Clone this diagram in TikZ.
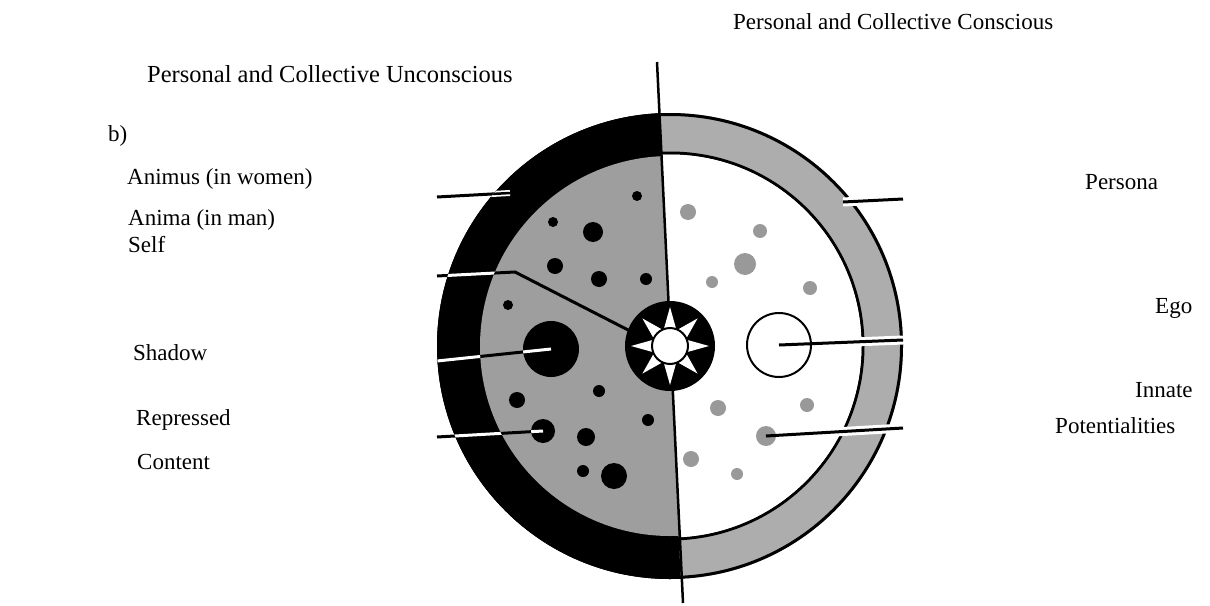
\documentclass[tikz,border=0pt]{standalone}
\usepackage{fontspec}
\setmainfont{Liberation Serif}
\definecolor{ringgray}{gray}{0.68}
\definecolor{diskgray}{gray}{0.62}
\definecolor{dotgray}{gray}{0.6}
\begin{document}
\begin{tikzpicture}[x=1pt,y=1pt,every node/.style={font=\fontsize{23}{27}\selectfont},lbl/.style={anchor=base west,inner sep=0pt},bdot/.style={circle,fill=black,inner sep=0pt,outer sep=0pt,minimum size=#1},gdot/.style={circle,fill=dotgray,inner sep=0pt,outer sep=0pt,minimum size=#1},lead/.style={line width=3pt},gap/.style={white,line width=9pt}]
\useasboundingbox (0,0) rectangle (1210,-605);
\coordinate (c) at (670,-346);
\coordinate (top) at (657,-62); \coordinate (bot) at (683,-603);
\node[lbl,font=\fontsize{24.5}{28}\selectfont] (unc) at (147,-82) {Personal and Collective Unconscious};
\node[lbl] (con) at (733,-29) {Personal and Collective Conscious};
\node[lbl] (fig) at (108,-141) {b)};
\node[lbl] (animus) at (127,-184) {Animus (in women)};
\node[lbl] (anima) at (128,-225) {Anima (in man)};
\node[lbl] (self) at (128,-252) {Self};
\node[lbl] (shadowl) at (133,-360) {Shadow};
\node[lbl] (repl) at (136,-425) {Repressed};
\node[lbl] (content) at (137,-469) {Content};
\node[lbl] (persona) at (1085,-189) {Persona};
\node[lbl] (egol) at (1155,-313) {Ego};
\node[lbl] (innatel) at (1135,-397) {Innate};
\node[lbl] (potl) at (1055,-433) {Potentialities};
\coordinate (animusA) at (437,-197); \coordinate (animusB) at (510,-193);
\coordinate (selfA) at (437,-276); \coordinate (selfB) at (515,-272); \coordinate (selfC) at (632,-332);
\coordinate (shadowA) at (437,-361); \coordinate (shadow) at (551,-349);
\coordinate (replA) at (437,-437); \coordinate (repr) at (543,-431);
\coordinate (personaA) at (903,-199); \coordinate (personaB) at (843,-202);
\coordinate (egoA) at (903,-340); \coordinate (ego) at (779,-345);
\coordinate (potA) at (903,-428); \coordinate (innate) at (766,-436);
\draw[lead] (animusA)--(animusB); \draw[lead] (selfA)--(selfB)--(selfC); \draw[lead] (shadowA)--(shadow); \draw[lead] (replA)--(repr);
\fill[ringgray] (c) circle (233);
\draw[line width=3pt] (c) circle (231.5) (c) circle (193);
\draw[gap] (personaA)--(personaB); \draw[gap] (egoA)--(ego); \draw[gap] (potA)--(innate);
\fill[white] (c) circle (191.5);
\node[gdot=16pt] (g1) at (688,-212) {}; \node[gdot=14pt] (g2) at (760,-231) {}; \node[gdot=22pt] (g3) at (745,-264) {};
\node[gdot=12pt] (g4) at (712,-282) {}; \node[gdot=14pt] (g5) at (810,-288) {}; \node[gdot=16pt] (g6) at (718,-408) {};
\node[gdot=14pt] (g7) at (807,-405) {}; \node[gdot=20pt] (potdot) at (innate) {}; \node[gdot=16pt] (g8) at (691,-459) {};
\node[gdot=12pt] (g9) at (737,-474) {};
\node[circle,draw,line width=2pt,fill=white,minimum size=64pt,inner sep=0pt] (egodot) at (ego) {};
\begin{scope}
\clip (c) ++(92.62:400) -- ++(182.62:400) -- ++(272.62:800) -- ++(2.62:400) -- cycle;
\fill (c) circle (233);
\begin{scope}
\clip (c) circle (233);
\draw[lead,white] (selfA)--(selfB)--(selfC); \draw[lead,white] (shadowA)--(shadow); \draw[lead,white] (replA)--(repr);
\draw[white,line width=6pt] (animusA)--(animusB); \draw[line width=2.5pt] (animusA)--(animusB);
\end{scope}
\fill[diskgray] (c) circle (190);
\begin{scope}
\clip (c) circle (190);
\draw[lead] (selfA)--(selfB)--(selfC); \draw[lead] (shadowA)--(shadow); \draw[lead] (replA)--(repr);
\end{scope}
\node[bdot=10pt] (b1) at (637,-196) {}; \node[bdot=10pt] (b2) at (553,-222) {}; \node[bdot=20pt] (b3) at (593,-232) {};
\node[bdot=16pt] (b4) at (555,-266) {}; \node[bdot=16pt] (b5) at (599,-279) {}; \node[bdot=12pt] (b6) at (646,-279) {};
\node[bdot=10pt] (b7) at (508,-305) {}; \node[bdot=56pt] (shadowdot) at (shadow) {}; \node[bdot=12pt] (b8) at (599,-391) {};
\node[bdot=16pt] (b9) at (517,-400) {}; \node[bdot=12pt] (b10) at (648,-420) {}; \node[bdot=24pt] (repdot) at (repr) {};
\node[bdot=18pt] (b11) at (586,-437) {}; \node[bdot=12pt] (b12) at (583,-471) {}; \node[bdot=26pt] (b13) at (614,-476) {};
\begin{scope}
\clip (shadow) circle (28); \draw[lead,white] (shadowA)--(shadow);
\end{scope}
\begin{scope}
\clip (repr) circle (12); \draw[lead,white] (replA)--(repr);
\end{scope}
\end{scope}
\draw[line width=2.5pt] (top)--(bot);
\node[circle,fill=black,minimum size=90pt,inner sep=0pt] (selfdisc) at (c) {};
\fill[white] (c) +(0:39) -- +(22.5:17) -- +(45:39) -- +(67.5:17) -- +(90:39) -- +(112.5:17) -- +(135:39) -- +(157.5:17) -- +(180:39) -- +(202.5:17) -- +(225:39) -- +(247.5:17) -- +(270:39) -- +(292.5:17) -- +(315:39) -- +(337.5:17) -- cycle;
\draw[fill=white,line width=2pt] (c) circle (18);
\draw[lead] (personaA)--(personaB); \draw[lead] (egoA)--(ego); \draw[lead] (potA)--(innate);
\end{tikzpicture}
\end{document}
